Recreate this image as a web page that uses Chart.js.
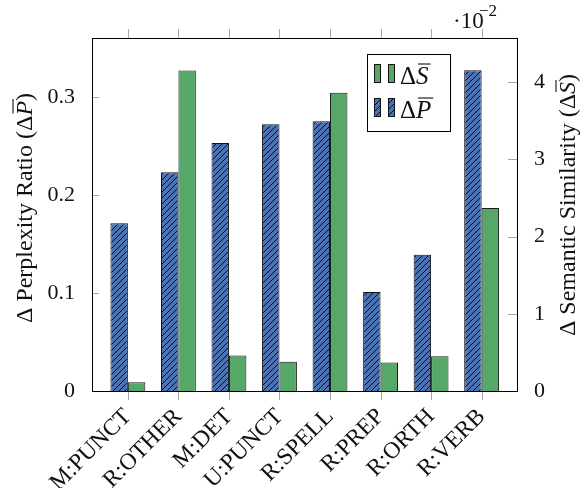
<!DOCTYPE html>
<html lang="en">
<head>
<meta charset="UTF-8">
<title>Perplexity Ratio vs Semantic Similarity</title>
<script src="https://cdn.jsdelivr.net/npm/chart.js@4.4.0/dist/chart.umd.min.js"></script>
<style>
    html, body { margin: 0; padding: 0; background: #fff; }
    .chart-container { position: relative; width: 587px; height: 488px; }
</style>
</head>
<body>
<div class="chart-container"><canvas id="errChart"></canvas></div>
<script>
// values
const categories = ['M:PUNCT', 'R:OTHER', 'M:DET', 'U:PUNCT', 'R:SPELL', 'R:PREP', 'R:ORTH', 'R:VERB'];
const perplexityDelta = [0.171, 0.223, 0.253, 0.272, 0.275, 0.101, 0.139, 0.327];
const similarityDelta = [0.00113, 0.0415, 0.0046, 0.0038, 0.0386, 0.0037, 0.0045, 0.0237];
const leftTicks = [0, 0.1, 0.2, 0.3];
const rightTicks = [0, 0.01, 0.02, 0.03, 0.04];

const BLUE = '#4C72B0';
const GREEN = '#55A868';
const SERIF = '"Liberation Serif", "DejaVu Serif", serif';
const TICK_GRAY = '#a6a6a6';

const canvas = document.getElementById('errChart');
const mainCtx = canvas.getContext('2d');

// diagonal "north east lines" hatch over the blue fill
function makeHatch(bg) {
    const c = document.createElement('canvas');
    c.width = 6; c.height = 6;
    const g = c.getContext('2d');
    g.fillStyle = bg;
    g.fillRect(0, 0, 6, 6);
    g.strokeStyle = '#0d0d0d';
    g.lineWidth = 1;
    g.beginPath();
    g.moveTo(0, 6); g.lineTo(6, 0);
    g.moveTo(-1, 1); g.lineTo(1, -1);
    g.moveTo(5, 7); g.lineTo(7, 5);
    g.stroke();
    return mainCtx.createPattern(c, 'repeat');
}
const hatch = makeHatch(BLUE);

// text pieces: {text, font, bar}
function richWidth(ctx, segs) {
    let w = 0;
    segs.forEach(s => { ctx.font = s.font; w += ctx.measureText(s.text).width; });
    return w;
}
function drawRich(ctx, segs, x, y, barY) {
    segs.forEach(s => {
        ctx.font = s.font;
        ctx.fillText(s.text, x, y);
        const w = ctx.measureText(s.text).width;
        if (s.bar) {
            ctx.save();
            ctx.lineWidth = 1.1;
            ctx.beginPath();
            ctx.moveTo(x + 2, y - barY);
            ctx.lineTo(x + w + 2, y - barY);
            ctx.stroke();
            ctx.restore();
        }
        x += w;
    });
}

const deco = {
    id: 'deco',
    afterDraw(chart) {
        const ctx = chart.ctx;
        const a = chart.chartArea;
        const xs = chart.scales.x, yl = chart.scales.y, yr = chart.scales.y1;
        ctx.save();

        // tick marks
        ctx.strokeStyle = TICK_GRAY;
        ctx.lineWidth = 1;
        ctx.beginPath();
        categories.forEach((c, i) => {
            const px = Math.round(xs.getPixelForValue(i)) + 0.5;
            ctx.moveTo(px, a.bottom); ctx.lineTo(px, a.bottom + 9);
            ctx.moveTo(px, a.top - 9); ctx.lineTo(px, a.top);
        });
        leftTicks.forEach(v => {
            const py = Math.round(yl.getPixelForValue(v)) + 0.5;
            ctx.moveTo(a.left, py); ctx.lineTo(a.left + 7, py);
        });
        rightTicks.forEach(v => {
            const py = Math.round(yr.getPixelForValue(v)) + 0.5;
            ctx.moveTo(a.right - 9, py); ctx.lineTo(a.right, py);
        });
        ctx.stroke();

        // axis box
        ctx.strokeStyle = '#000';
        ctx.strokeRect(Math.round(a.left) + 0.5, Math.round(a.top) + 0.5,
            Math.round(a.right - a.left), Math.round(a.bottom - a.top));

        ctx.fillStyle = '#111';
        ctx.strokeStyle = '#111';
        ctx.textBaseline = 'alphabetic';
        const f = '24px ' + SERIF, fi = 'italic 24px ' + SERIF;

        // left title
        const leftSegs = [
            {text: '\u0394 Perplexity Ratio (\u0394', font: f},
            {text: 'P', font: fi, bar: true},
            {text: ')', font: f}
        ];
        let w = richWidth(ctx, leftSegs);
        ctx.save();
        ctx.translate(32, 208);
        ctx.rotate(-Math.PI / 2);
        drawRich(ctx, leftSegs, -w / 2, 0, 19);
        ctx.restore();

        // right title
        const rightSegs = [
            {text: '\u0394 Semantic Similarity (\u0394', font: f},
            {text: 'S', font: fi, bar: true},
            {text: ')', font: f}
        ];
        w = richWidth(ctx, rightSegs);
        ctx.save();
        ctx.translate(575, 205);
        ctx.rotate(-Math.PI / 2);
        drawRich(ctx, rightSegs, -w / 2, 0, 19);
        ctx.restore();

        // scale factor above right axis
        ctx.font = '23px ' + SERIF;
        ctx.fillText('\u00b710', 453, 28);
        ctx.font = '17px ' + SERIF;
        ctx.fillText('\u22122', 479, 16);

        // legend
        const lx = 367.5, ly = 54.5, lw = 83, lh = 77;
        ctx.fillStyle = '#fff';
        ctx.fillRect(lx, ly, lw, lh);
        ctx.strokeStyle = '#000';
        ctx.strokeRect(lx, ly, lw, lh);
        const entries = [
            {fill: GREEN, name: 'S', base: 83},
            {fill: hatch, name: 'P', base: 117}
        ];
        const lf = '25px ' + SERIF, lfi = 'italic 25px ' + SERIF;
        entries.forEach(e => {
            [374, 388].forEach(bx => {
                ctx.fillStyle = e.fill;
                ctx.fillRect(bx, e.base - 19, 7, 19);
                ctx.strokeStyle = '#111';
                ctx.strokeRect(bx + 0.5, e.base - 19 + 0.5, 6, 18);
            });
            ctx.fillStyle = '#111';
            ctx.strokeStyle = '#111';
            drawRich(ctx, [
                {text: '\u0394', font: lf},
                {text: e.name, font: lfi, bar: true}
            ], 400, e.base + 1, 20);
        });

        ctx.restore();
    }
};

new Chart(mainCtx, {
    type: 'bar',
    data: {
        datasets: [{
            label: '\u0394P',
            data: perplexityDelta.map((v, i) => ({x: i, y: v})),
            yAxisID: 'y',
            backgroundColor: hatch,
            borderColor: '#111',
            borderWidth: 1
        }, {
            label: '\u0394S',
            data: similarityDelta.map((v, i) => ({x: i, y: v})),
            yAxisID: 'y1',
            backgroundColor: GREEN,
            borderColor: '#1a1a1a',
            borderWidth: 1
        }]
    },
    options: {
        responsive: true,
        maintainAspectRatio: false,
        animation: false,
        layout: { padding: { top: 38, left: 0, right: 0, bottom: 0 } },
        datasets: { bar: { categoryPercentage: 0.69, barPercentage: 1 } },
        plugins: { legend: { display: false }, tooltip: { enabled: false } },
        scales: {
            x: {
                type: 'linear',
                min: -0.71,
                max: 7.7,
                offset: false,
                grid: { display: false },
                border: { display: false },
                afterBuildTicks: s => { s.ticks = categories.map((c, i) => ({value: i})); },
                afterFit: s => { s.height = 97; },
                ticks: {
                    autoSkip: false,
                    minRotation: 45,
                    maxRotation: 45,
                    padding: 4,
                    color: '#111',
                    font: { family: SERIF, size: 23.5 },
                    callback: v => categories[v] ?? ''
                }
            },
            y: {
                position: 'left',
                min: 0,
                max: 0.36,
                grid: { display: false },
                border: { display: false },
                afterBuildTicks: s => { s.ticks = leftTicks.map(v => ({value: v})); },
                afterFit: s => { s.width = 92; },
                ticks: {
                    padding: 9,
                    color: '#111',
                    font: { family: SERIF, size: 22 },
                    callback: v => v === 0 ? '0' : v.toFixed(1)
                }
            },
            y1: {
                position: 'right',
                min: 0,
                max: 0.0457,
                grid: { display: false },
                border: { display: false },
                afterBuildTicks: s => { s.ticks = rightTicks.map(v => ({value: v})); },
                afterFit: s => { s.width = 70; },
                ticks: {
                    padding: 9,
                    color: '#111',
                    font: { family: SERIF, size: 22 },
                    callback: v => String(Math.round(v * 100))
                }
            }
        }
    },
    plugins: [deco]
});
</script>
</body>
</html>
